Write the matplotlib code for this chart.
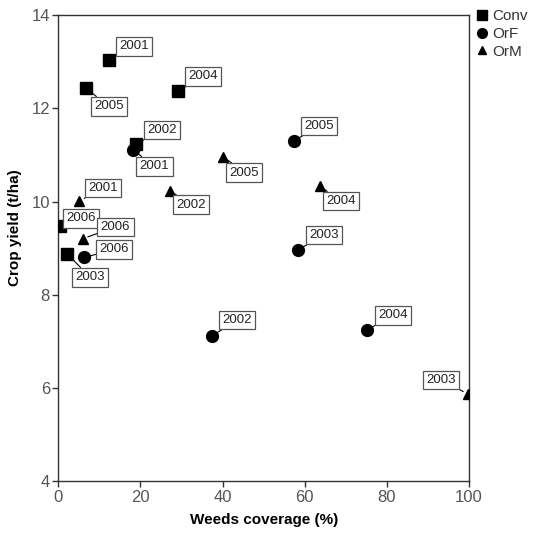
import matplotlib
matplotlib.use('Agg')
import matplotlib.pyplot as plt
from matplotlib.lines import Line2D

plt.rcParams['font.family'] = ['Liberation Sans', 'DejaVu Sans']

# data (weeds coverage %, crop yield t/ha, year label)
conv_x = [12.3, 6.7, 29.1, 18.9, 0.4, 2.2]
conv_y = [13.03, 12.43, 12.36, 11.23, 9.47, 8.87]
conv_yr = ['2001', '2005', '2004', '2002', '2006', '2003']

orf_x = [18.3, 6.3, 37.5, 57.4, 58.3, 75.1]
orf_y = [11.10, 8.80, 7.12, 11.30, 8.96, 7.24]
orf_yr = ['2001', '2006', '2002', '2005', '2003', '2004']

orm_x = [5.1, 5.9, 27.2, 40.2, 63.7, 99.8]
orm_y = [10.01, 9.20, 10.23, 10.96, 10.33, 5.87]
orm_yr = ['2001', '2006', '2002', '2005', '2004', '2003']

# label offsets in pixels (dx, dy up)
conv_off = [(25, 14), (23, -18), (25, 15), (26, 14), (21, 8), (23, -23)]
orf_off = [(21, -16), (30, 8), (25, 16), (25, 15), (26, 15), (26, 15)]
orm_off = [(24, 13), (33, 12), (21, -14), (21, -16), (21, -15), (-27, 14)]

fig = plt.figure(figsize=(5.35, 5.34), dpi=100)
ax = fig.add_axes([0.109, 0.0987, 0.7676, 0.8732])

groups = [
    (conv_x, conv_y, conv_yr, conv_off, 's', 8),
    (orf_x, orf_y, orf_yr, orf_off, 'o', 8.5),
    (orm_x, orm_y, orm_yr, orm_off, '^', 6.5),
]
for xs, ys, yrs, offs, mk, ms in groups:
    ax.plot(xs, ys, ls='none', marker=mk, ms=ms, color='black', zorder=3)
    for x, y, yr, (dx, dy) in zip(xs, ys, yrs, offs):
        ax.annotate(yr, (x, y), xytext=(dx * 0.72, dy * 0.72), textcoords='offset points',
                    ha='center', va='center', fontsize=9.5, color='#222222', zorder=4,
                    bbox=dict(boxstyle='square,pad=0.25', fc='white', ec='#555555', lw=0.9),
                    arrowprops=dict(arrowstyle='-', color='black', lw=0.8,
                                    shrinkA=0, shrinkB=4))

ax.set_xlim(0, 100)
ax.set_ylim(4, 14)
ax.set_xticks([0, 20, 40, 60, 80, 100])
ax.set_yticks([4, 6, 8, 10, 12, 14])
ax.tick_params(direction='out', length=4, width=1, colors='#333333', labelsize=12,
               labelcolor='#555555', pad=2)
for s in ax.spines.values():
    s.set_color('#333333')
    s.set_linewidth(1)
ax.set_xlabel('Weeds coverage (%)', fontsize=11, fontweight='bold', labelpad=6)
ax.set_ylabel('Crop yield (t/ha)', fontsize=11, fontweight='bold')
ax.yaxis.set_label_coords(-0.088, 0.543)

handles = [Line2D([], [], ls='none', marker='s', ms=7, color='black'),
           Line2D([], [], ls='none', marker='o', ms=7, color='black'),
           Line2D([], [], ls='none', marker='^', ms=6, color='black')]
fig.legend(handles, ['Conv', 'OrF', 'OrM'], loc='upper left', bbox_to_anchor=(0.872, 1.0),
           frameon=False, fontsize=11, handlelength=0.8, handletextpad=0.3,
           labelspacing=0.25, borderaxespad=0.2, labelcolor='#333333')

plt.savefig('out.png', dpi=100)
